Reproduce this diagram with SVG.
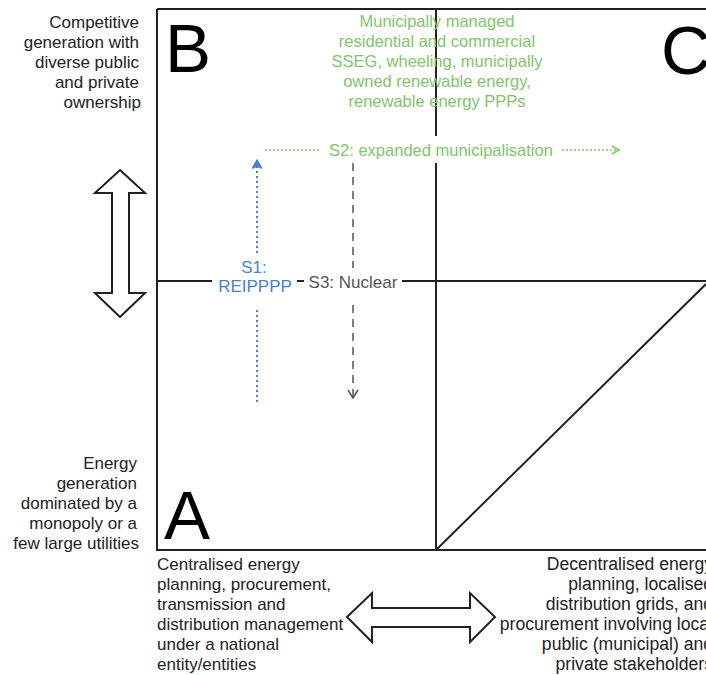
<svg xmlns="http://www.w3.org/2000/svg" width="706" height="675" viewBox="0 0 706 675">
<style>
  .t { font-family: "Liberation Sans", Arial, sans-serif; font-size: 17px; fill: #222; }
  .r { font-size: 17.6px; text-anchor: end; }
  .big { font-family: "Liberation Sans", Arial, sans-serif; font-size: 69px; fill: #000; }
  .g { font-family: "Liberation Sans", Arial, sans-serif; font-size: 16.5px; fill: #82c46c; text-anchor: middle; }
  .frame { stroke: #222; stroke-width: 2; fill: none; }
  .hollow { stroke: #222; stroke-width: 2; fill: #fff; stroke-linejoin: miter; }
</style>
<defs>
  <marker id="ahGreen" markerWidth="10" markerHeight="10" refX="8" refY="5" orient="auto" markerUnits="userSpaceOnUse">
    <path d="M1,1 L8,5 L1,9" fill="none" stroke="#82c46c" stroke-width="1.5"/>
  </marker>
  <marker id="ahBlue" markerWidth="12" markerHeight="12" refX="10" refY="6" orient="auto" markerUnits="userSpaceOnUse">
    <path d="M2,1.5 L10,6 L2,10.5 L4,6 Z" fill="#4a7fd4" stroke="#4a7fd4" stroke-width="1.5" stroke-linejoin="round"/>
  </marker>
  <marker id="ahGray" markerWidth="12" markerHeight="12" refX="10" refY="6" orient="auto" markerUnits="userSpaceOnUse">
    <path d="M2,1 L10,6 L2,11" fill="none" stroke="#555" stroke-width="1.5"/>
  </marker>
</defs>
<rect width="706" height="675" fill="#fff"/>

<g id="frame">
  <path class="frame" d="M157,9 L708,9 M157,9 L157,550 L708,550"/>
  <path class="frame" d="M436,9 L436,136 M436,163 L436,550"/>
  <path class="frame" d="M157,281 L212,281 M297,281 L304,281 M402,281 L708,281"/>
  <path class="frame" d="M436,550 L706,284"/>
</g>

<g id="quadrant-labels">
  <text class="big" x="165" y="72">B</text>
  <text class="big" x="661" y="74">C</text>
  <text class="big" x="164" y="539">A</text>
</g>

<g id="axis-top-label">
  <text class="t" text-anchor="end" x="139" y="28">Competitive</text>
  <text class="t" text-anchor="end" x="139" y="48">generation with</text>
  <text class="t" text-anchor="end" x="139" y="68">diverse public</text>
  <text class="t" text-anchor="end" x="139" y="88">and private</text>
  <text class="t" text-anchor="end" x="141" y="108">ownership</text>
</g>

<g id="axis-bottom-label">
  <text class="t" text-anchor="end" x="137" y="469">Energy</text>
  <text class="t" text-anchor="end" x="137" y="489">generation</text>
  <text class="t" text-anchor="end" x="137" y="509">dominated by a</text>
  <text class="t" text-anchor="end" x="137" y="529">monopoly or a</text>
  <text class="t" text-anchor="end" x="139" y="549">few large utilities</text>
</g>

<g id="axis-left-label">
  <text class="t" x="157" y="570">Centralised energy</text>
  <text class="t" x="157" y="590">planning, procurement,</text>
  <text class="t" x="157" y="610">transmission and</text>
  <text class="t" x="157" y="630">distribution management</text>
  <text class="t" x="157" y="650">under a national</text>
  <text class="t" x="157" y="670">entity/entities</text>
</g>

<g id="axis-right-label">
  <text class="t r" x="713" y="570">Decentralised energy</text>
  <text class="t r" x="713" y="590">planning, localised</text>
  <text class="t r" x="713" y="610">distribution grids, and</text>
  <text class="t r" x="713" y="630">procurement involving local</text>
  <text class="t r" x="713" y="650">public (municipal) and</text>
  <text class="t r" x="713" y="670">private stakeholders</text>
</g>

<g id="vertical-double-arrow">
  <path class="hollow" d="M120,170 L145,193 L129,193 L129,293 L145,293 L120,317 L95,293 L112,293 L112,193 L95,193 Z"/>
</g>

<g id="horizontal-double-arrow">
  <path class="hollow" d="M347,617 L372,593 L372,608 L470,608 L470,593 L495,617 L470,642 L470,627 L372,627 L372,642 Z"/>
</g>

<g id="municipal-text">
  <text class="g" x="437" y="27">Municipally managed</text>
  <text class="g" x="437" y="47">residential and commercial</text>
  <text class="g" x="437" y="67">SSEG, wheeling, municipally</text>
  <text class="g" x="437" y="87">owned renewable energy,</text>
  <text class="g" x="437" y="107">renewable energy PPPs</text>
</g>

<g id="connectors">
  <path d="M265,150 L321,150 M562,150 L619,150" fill="none" stroke="#82c46c" stroke-width="1.5" stroke-dasharray="2,2" marker-end="url(#ahGreen)"/>
  <path d="M257,402 L257,307 M257,253 L257,160" fill="none" stroke="#4a7fd4" stroke-width="2" stroke-dasharray="2,3" marker-end="url(#ahBlue)"/>
  <path d="M353,163 L353,268 M353,305 L353,398" fill="none" stroke="#555" stroke-width="1.5" stroke-dasharray="8,6" marker-end="url(#ahGray)"/>
</g>

<g id="scenario-labels">
  <text class="g" x="441" y="156">S2: expanded municipalisation</text>
  <text class="t" text-anchor="middle" x="254" y="273" style="fill:#4a7fd4">S1:</text>
  <text class="t" text-anchor="middle" x="255" y="292" style="fill:#4a7fd4">REIPPPP</text>
  <text class="t" text-anchor="middle" x="353" y="288" style="fill:#555">S3: Nuclear</text>
</g>
</svg>
